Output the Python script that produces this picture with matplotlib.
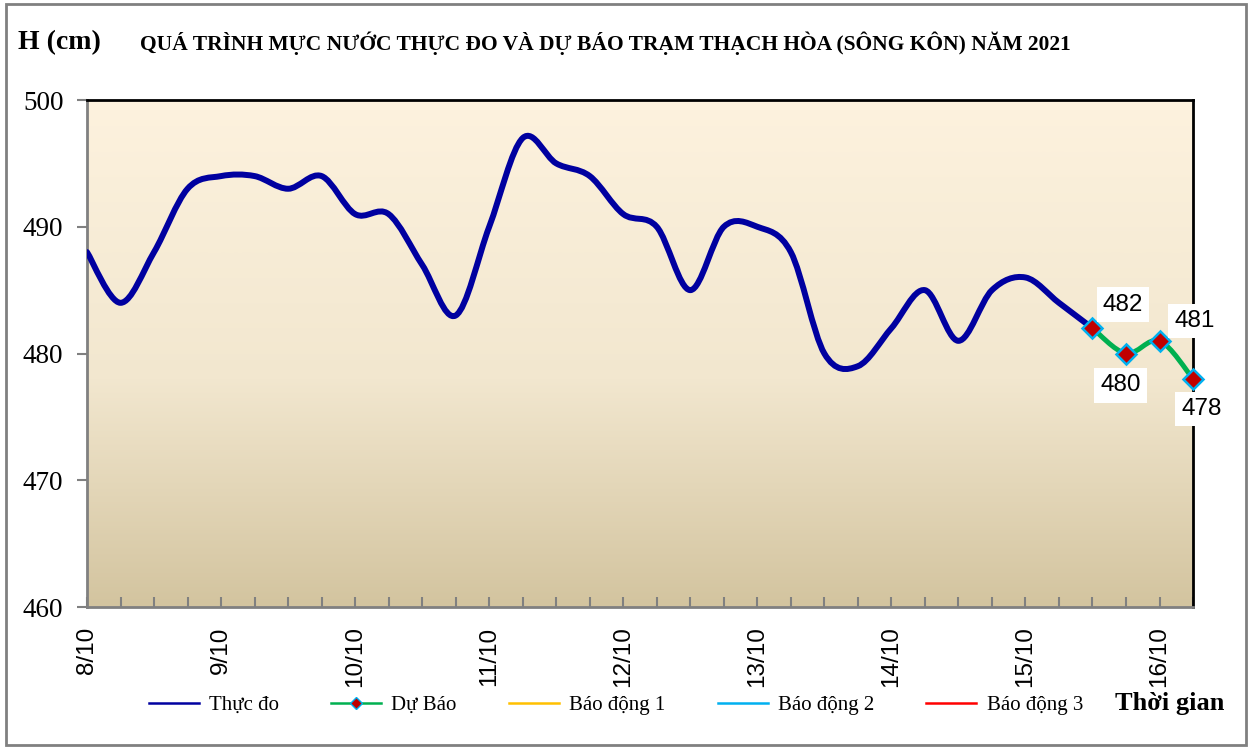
import numpy as np
import matplotlib.pyplot as plt
from matplotlib.path import Path
from matplotlib.patches import PathPatch, Rectangle
from matplotlib.colors import LinearSegmentedColormap

# Mực nước thực đo, mỗi 6 giờ từ 8/10 00h
observed = [488, 484, 488, 493, 494, 494, 493, 494, 491, 491, 487, 483,
            490, 497, 495, 494, 491, 490, 485, 490, 490, 488, 480, 479,
            482, 485, 481, 485, 486, 484, 482]
# Dự báo
forecast = [482, 480, 481, 478]
forecast_start = 30
day_labels = ['8/10', '9/10', '10/10', '11/10', '12/10', '13/10', '14/10', '15/10', '16/10']
y_ticks = [460, 470, 480, 490, 500]

serif = ['Liberation Serif', 'DejaVu Serif']
sans = ['Liberation Sans', 'DejaVu Sans']


def smooth_path(xs, ys):
    # duong cong kieu Excel (Catmull-Rom -> Bezier)
    p = np.column_stack([xs, ys]).astype(float)
    n = len(p)
    verts = [p[0]]
    codes = [Path.MOVETO]
    for i in range(n - 1):
        p0 = p[i - 1] if i > 0 else p[i]
        p3 = p[i + 2] if i + 2 < n else p[i + 1]
        c1 = p[i] + (p[i + 1] - p0) / 6
        c2 = p[i + 1] - (p3 - p[i]) / 6
        verts += [c1, c2, p[i + 1]]
        codes += [Path.CURVE4] * 3
    return Path(verts, codes)


fig = plt.figure(figsize=(12.52, 7.47), dpi=100)
ax = fig.add_axes([0.0695, 0.1874, 0.8834, 0.6787])

# nen gradient
cmap = LinearSegmentedColormap.from_list('bg', [(0, '#D3C49F'), (0.45, '#F2E7CF'), (1, '#FDF2DE')])
grad = np.linspace(0, 1, 256).reshape(-1, 1)
ax.imshow(grad, extent=[0, 1, 0, 1], transform=ax.transAxes, origin='lower',
          cmap=cmap, aspect='auto', zorder=0)

x_obs = np.arange(len(observed))
x_fc = np.arange(forecast_start, forecast_start + len(forecast))

ax.add_patch(PathPatch(smooth_path(x_obs, observed), fill=False, edgecolor='#0000A0',
                       lw=4.3, capstyle='round', joinstyle='round', zorder=3))
ax.add_patch(PathPatch(smooth_path(x_fc, forecast), fill=False, edgecolor='#00B050',
                       lw=3.6, capstyle='round', joinstyle='round', zorder=4,
                       clip_on=False))
ax.plot(x_fc, forecast, ls='none', marker='D', ms=10, mfc='#C00000', mec='#00B0F0',
        mew=1.8, zorder=5, clip_on=False)

offsets = [(22, 17), (-4, -23), (25, 14), (6, -22)]
for xv, yv, off in zip(x_fc, forecast, offsets):
    ax.annotate(str(yv), (xv, yv), xytext=off, textcoords='offset points',
                ha='center', va='center', fontsize=17.5, family=sans,
                bbox=dict(boxstyle='square,pad=0.25', fc='white', ec='none'),
                zorder=6, annotation_clip=False)

ax.set_xlim(0, 33)
ax.set_ylim(460, 500)
ax.set_xticks(np.arange(0, 33, 4))
ax.set_xticks(np.arange(0, 34), minor=True)
ax.set_xticklabels(day_labels, rotation=90, family=sans, fontsize=17.5)
ax.set_yticks(y_ticks)
ax.set_yticklabels([str(v) for v in y_ticks], family=serif, fontsize=19.5)
ax.tick_params(axis='x', which='both', direction='in', length=7, width=1.5,
               color='#808080', pad=14)
ax.tick_params(axis='y', direction='out', length=7, width=1.5, color='#808080', pad=10)

for s in ['left', 'bottom']:
    ax.spines[s].set_color('#808080')
    ax.spines[s].set_linewidth(2)
for s in ['top', 'right']:
    ax.spines[s].set_color('black')
    ax.spines[s].set_linewidth(2)

# chu giai
handles = [
    plt.Line2D([], [], color='#0000A0', lw=1.8),
    plt.Line2D([], [], color='#00B050', lw=1.8, marker='D', ms=6, mfc='#C00000', mec='#00B0F0'),
    plt.Line2D([], [], color='#FFC000', lw=1.8),
    plt.Line2D([], [], color='#00B0F0', lw=1.8),
    plt.Line2D([], [], color='#FF0000', lw=1.8),
]
names = ['Thực đo', 'Dự Báo', 'Báo động 1', 'Báo động 2', 'Báo động 3']
fig.legend(handles, names, loc='center left', bbox_to_anchor=(0.112, 0.056), ncol=5,
           frameon=False, prop={'family': serif, 'size': 15}, handlelength=2.4,
           handletextpad=0.5, columnspacing=2.5, borderaxespad=0)

fig.text(0.014, 0.943, 'H (cm)', family=serif, fontsize=20, weight='bold', va='center')
fig.text(0.112, 0.942, 'QUÁ TRÌNH MỰC NƯỚC THỰC ĐO VÀ DỰ BÁO TRẠM THẠCH HÒA (SÔNG KÔN) NĂM 2021',
         family=serif, fontsize=15.5, weight='bold', va='center')
fig.text(0.978, 0.058, 'Thời gian', family=serif, fontsize=19, weight='bold',
         va='center', ha='right')

fig.add_artist(Rectangle((0.005, 0.003), 0.99, 0.991, transform=fig.transFigure,
                         fill=False, ec='#808080', lw=2))

fig.savefig('out.png', dpi=100)
